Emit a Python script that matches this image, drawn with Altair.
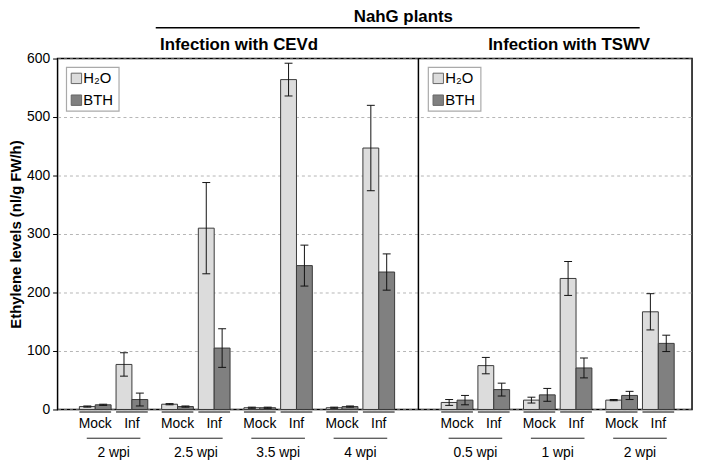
import altair as alt
import pandas as pd

# ---------------- data ----------------
panel_names = ["Infection with CEVd", "Infection with TSWV"]
timepoints_cevd = ["2 wpi", "2.5 wpi", "3.5 wpi", "4 wpi"]
timepoints_tswv = ["0.5 wpi", "1 wpi", "2 wpi"]
conditions = ["Mock", "Inf"]
treatments = ["H\u2082O", "BTH"]
# order inside each time point: Mock-H2O, Mock-BTH, Inf-H2O, Inf-BTH
cevd_mean = [5, 8, 77, 17, 9, 5, 310, 105, 3, 3, 564, 246, 3, 5, 447, 235]
cevd_err = [1, 1, 20, 11, 1, 1, 78, 33, 1, 1, 28, 35, 1, 1, 73, 31]
tswv_mean = [12, 16, 75, 34, 16, 25, 224, 71, 16, 24, 167, 113]
tswv_err = [5, 8, 14, 11, 5, 11, 29, 17, 1, 7, 31, 14]
super_title = "NahG plants"
y_title = "Ethylene levels (nl/g FW/h)"

# ---------------- layout (units: one bar width) ----------------
W, H = 640, 354
X_MAX = 40.0
PANEL_START = [1.375, 24.1875]
PANEL_DIVIDER = 22.75
GROUP_STEP = 5.1875
COND_STEP = 2.3125
BAR_W = 1.0
CAP_HALF = 0.25
FONT = "Liberation Sans"
COLORS = ["#dcdcdc", "#808080"]

panels = [
    (timepoints_cevd, cevd_mean, cevd_err),
    (timepoints_tswv, tswv_mean, tswv_err),
]

bar_rows, cond_rows, group_rows = [], [], []
for p, (tps, means, errs) in enumerate(panels):
    for g, tp in enumerate(tps):
        gstart = PANEL_START[p] + g * GROUP_STEP
        for c, cond in enumerate(conditions):
            cstart = gstart + c * COND_STEP
            cond_rows.append({"x0": cstart, "x1": cstart + 2 * BAR_W,
                              "xc": cstart + BAR_W, "label": cond})
            for t, tr in enumerate(treatments):
                i = g * 4 + c * 2 + t
                x0 = cstart + t * BAR_W
                m, e = means[i], errs[i]
                bar_rows.append({
                    "x0": x0, "x1": x0 + BAR_W, "xc": x0 + BAR_W / 2,
                    "cl": x0 + BAR_W / 2 - CAP_HALF, "cr": x0 + BAR_W / 2 + CAP_HALF,
                    "base": 0, "mean": m, "lo": m - e, "hi": m + e,
                    "treatment": tr, "panel": p, "time": tp, "cond": cond,
                })
        center = gstart + BAR_W + COND_STEP / 2
        group_rows.append({"xc": center, "x0": center - 1.69, "x1": center + 1.69, "label": tp})

bars = pd.DataFrame(bar_rows)
conds = pd.DataFrame(cond_rows)
groups = pd.DataFrame(group_rows)

xs = alt.Scale(domain=[0, X_MAX], nice=False, zero=False)
ys = alt.Scale(domain=[0, 600], nice=False)
X = lambda f: alt.X(f"{f}:Q", scale=xs, axis=None)
cscale = alt.Scale(domain=treatments, range=COLORS)

base = alt.Chart(bars)

bar_layer = base.mark_bar(stroke="#3a3a3a", strokeWidth=1).encode(
    x=X("x0"), x2="x1",
    y=alt.Y("mean:Q", scale=ys,
            axis=alt.Axis(values=[0, 100, 200, 300, 400, 500, 600], title=y_title,
                          grid=True, gridColor="#b5b5b5", gridDash=[3, 3], gridWidth=1,
                          domain=False, ticks=True, tickColor="#000", tickSize=5,
                          labelFontSize=14, labelColor="#000", labelPadding=3,
                          titleFontSize=15, titleFontWeight="bold", titleColor="#000",
                          titleX=-42, titleY=H / 2, titleAngle=-90,
                          titleAlign="center", titleBaseline="middle")),
    y2="base:Q",
    color=alt.Color("treatment:N", scale=cscale, legend=None),
)

err_v = base.mark_rule(color="#111", strokeWidth=1).encode(
    x=X("xc"), y=alt.Y("lo:Q", scale=ys), y2="hi")
cap_hi = base.mark_rule(color="#111", strokeWidth=1).encode(
    x=X("cl"), x2="cr", y=alt.Y("hi:Q", scale=ys))
cap_lo = base.mark_rule(color="#111", strokeWidth=1).encode(
    x=X("cl"), x2="cr", y=alt.Y("lo:Q", scale=ys))

divider = alt.Chart(pd.DataFrame({"x": [PANEL_DIVIDER]})).mark_rule(
    color="#000", strokeWidth=1.5).encode(x=X("x"))

cond_line = alt.Chart(conds).mark_rule(color="#555", strokeWidth=1.5).encode(
    x=X("x0"), x2="x1", y=alt.value(H + 2.5))
cond_text = alt.Chart(conds).mark_text(fontSize=14, font=FONT, color="#000",
                                       baseline="middle").encode(
    x=X("xc"), y=alt.value(H + 15), text="label:N")
group_line = alt.Chart(groups).mark_rule(color="#222", strokeWidth=1).encode(
    x=X("x0"), x2="x1", y=alt.value(H + 29))
group_text = alt.Chart(groups).mark_text(fontSize=14, font=FONT, color="#000",
                                         baseline="middle").encode(
    x=X("xc"), y=alt.value(H + 44), text="label:N")

headers = pd.DataFrame({"x": [11.44, 32.25], "label": panel_names})
header_text = alt.Chart(headers).mark_text(fontSize=17, fontWeight="bold", font=FONT,
                                           color="#000", baseline="middle").encode(
    x=X("x"), y=alt.value(-14), text="label:N")

sup = pd.DataFrame({"x": [21.8], "x0": [6.19], "x1": [36.7], "label": [super_title]})
sup_text = alt.Chart(sup).mark_text(fontSize=17, fontWeight="bold", font=FONT,
                                    color="#000", baseline="alphabetic").encode(
    x=X("x"), y=alt.value(-37), text="label:N")
sup_line = alt.Chart(sup).mark_rule(color="#000", strokeWidth=1.5).encode(
    x=X("x0"), x2="x1", y=alt.value(-31))

# manual legends (one per panel)
leg_layers = []
for lx in [9, 374]:
    box = alt.Chart(pd.DataFrame({"a": [0]})).mark_rect(
        fill="white", stroke="#aaaaaa", strokeWidth=1.2).encode(
        x=alt.value(lx), x2=alt.value(lx + 53), y=alt.value(9), y2=alt.value(53))
    ld = pd.DataFrame({"treatment": treatments,
                       "yy": [20 + 22 * i for i in range(len(treatments))]})
    sq = alt.Chart(ld).mark_square(size=110, stroke="#666", strokeWidth=1, opacity=1).encode(
        x=alt.value(lx + 10), y=alt.Y("yy:Q", scale=None),
        fill=alt.Fill("treatment:N", scale=cscale, legend=None))
    tx = alt.Chart(ld).mark_text(fontSize=15, font=FONT, align="left", baseline="middle",
                                 color="#000").encode(
        x=alt.value(lx + 17), y=alt.Y("yy:Q", scale=None), text="treatment:N")
    leg_layers += [box, sq, tx]

chart = alt.layer(
    bar_layer, err_v, cap_hi, cap_lo, divider,
    cond_line, cond_text, group_line, group_text,
    header_text, sup_text, sup_line, *leg_layers,
).resolve_scale(y="shared").properties(
    width=W, height=H,
    autosize=alt.AutoSizeParams(type="none"),
    padding={"left": 50, "top": 49, "right": 3, "bottom": 52},
).configure(font=FONT).configure_view(stroke="#000", strokeWidth=1.5)

chart.save("out.html", embed_options={"renderer": "svg", "actions": False})
